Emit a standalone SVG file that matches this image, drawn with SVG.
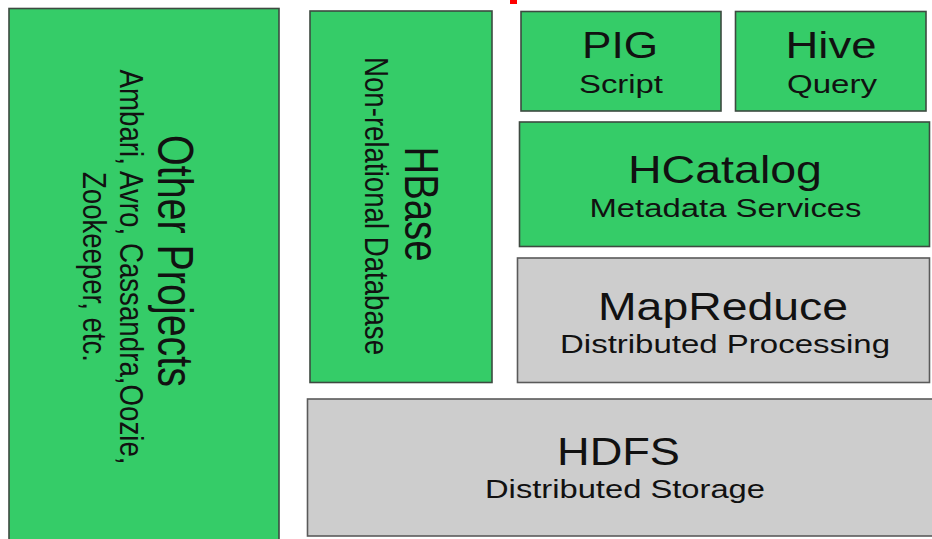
<svg xmlns="http://www.w3.org/2000/svg" width="932" height="539" viewBox="0 0 932 539">
<style>
.g{fill:#35cc68;stroke:#3d4a40;stroke-width:1.6}
.y{fill:#cdcdcd;stroke:#5a5a5a;stroke-width:1.6}
text{font-family:"Liberation Sans",Arial,sans-serif;fill:#111;text-anchor:middle}
</style>
<rect width="932" height="539" fill="#ffffff"/>
<rect x="510" y="0" width="7" height="4" fill="#ff0000"/>
<g id="other">
<rect class="g" x="9" y="8.5" width="270" height="540"/>
<text transform="translate(158,261) scale(1.3,1) rotate(90)" font-size="39" textLength="252" lengthAdjust="spacingAndGlyphs">Other Projects</text>
<text transform="translate(120,267) scale(1.3,1) rotate(90)" font-size="25" textLength="395" lengthAdjust="spacingAndGlyphs">Ambari, Avro, Cassandra,Oozie,</text>
<text transform="translate(83,267) scale(1.3,1) rotate(90)" font-size="25" textLength="190" lengthAdjust="spacingAndGlyphs">Zookeeper, etc.</text>
</g>
<g id="hbase">
<rect class="g" x="310" y="11" width="182" height="371.5"/>
<text transform="translate(405,204) scale(1.3,1) rotate(90)" font-size="37" textLength="115" lengthAdjust="spacingAndGlyphs">HBase</text>
<text transform="translate(365,206) scale(1.3,1) rotate(90)" font-size="25" textLength="298" lengthAdjust="spacingAndGlyphs">Non-relational Database</text>
</g>
<g id="pig">
<rect class="g" x="521" y="11.5" width="200" height="99.5"/>
<text x="620" y="58" font-size="36" textLength="76" lengthAdjust="spacingAndGlyphs">PIG</text>
<text x="621" y="93" font-size="26" textLength="84" lengthAdjust="spacingAndGlyphs">Script</text>
</g>
<g id="hive">
<rect class="g" x="735.5" y="11.5" width="190.5" height="99.5"/>
<text x="831" y="58" font-size="36" textLength="91" lengthAdjust="spacingAndGlyphs">Hive</text>
<text x="832" y="93" font-size="26" textLength="90" lengthAdjust="spacingAndGlyphs">Query</text>
</g>
<g id="hcatalog">
<rect class="g" x="519.5" y="122" width="410" height="124.5"/>
<text x="725" y="183" font-size="39" textLength="194" lengthAdjust="spacingAndGlyphs">HCatalog</text>
<text x="725.5" y="217" font-size="25" textLength="272" lengthAdjust="spacingAndGlyphs">Metadata Services</text>
</g>
<g id="mapreduce">
<rect class="y" x="517.5" y="258" width="412" height="124.5"/>
<text x="723" y="320" font-size="38" textLength="250" lengthAdjust="spacingAndGlyphs">MapReduce</text>
<text x="725" y="353" font-size="26" textLength="330" lengthAdjust="spacingAndGlyphs">Distributed Processing</text>
</g>
<g id="hdfs">
<rect class="y" x="307.5" y="399" width="640" height="137"/>
<text x="618.5" y="465" font-size="38" textLength="123" lengthAdjust="spacingAndGlyphs">HDFS</text>
<text x="625" y="498" font-size="25" textLength="280" lengthAdjust="spacingAndGlyphs">Distributed Storage</text>
</g>
<g id="connectors"></g>
</svg>
